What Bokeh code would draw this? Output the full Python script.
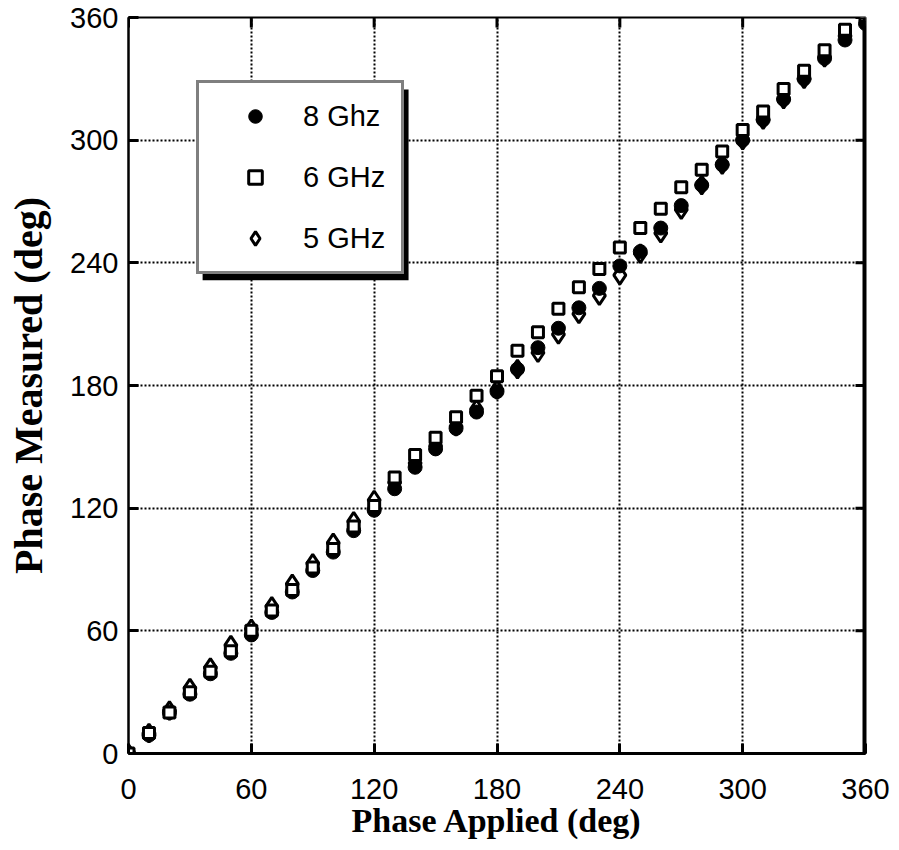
from bokeh.plotting import figure
from bokeh.models import (Range1d, FixedTicker, Legend, LegendItem, BoxAnnotation, Span)
from bokeh.embed import file_html
from bokeh.resources import INLINE

# ---- data ----
phase_applied = [0, 10, 20, 30, 40, 50, 60, 70, 80, 90, 100, 110, 120, 130, 140,
                 150, 160, 170, 180, 190, 200, 210, 220, 230, 240, 250, 260, 270,
                 280, 290, 300, 310, 320, 330, 340, 350, 360]
meas_8ghz = [0, 9, 20, 29, 39, 49, 58, 69, 79, 89.5, 98.5, 109, 119, 129.5, 140,
             149, 159, 167, 177, 188, 198.5, 208, 218, 227.5, 238.5, 245.5, 257,
             268, 278, 288, 300, 310, 320, 330, 340, 349, 357]
meas_6ghz = [0, 10, 20, 30, 40, 50, 60, 70, 80, 91, 100, 111, 121, 135, 146,
             154.5, 164.5, 175, 184.5, 197, 206, 217.5, 228, 237, 247.5, 257,
             266.5, 277, 285.5, 294.5, 305, 314, 325, 334, 344, 354, 361]
meas_5ghz = [0, 10, 21, 32, 42, 53, 61, 72, 83, 93, 103, 113.5, 124, 132.5, 142,
             150.5, 160, 168.5, 178, 188, 196, 205, 215, 224, 234, 244.5, 254.5,
             266, 278, 288, 300, 310, 320, 330, 340.5, 351, 360]
tick_values = [0, 60, 120, 180, 240, 300, 360]
series_labels = ["8 Ghz", "6 GHz", "5 GHz"]
x_title = "Phase Applied (deg)"
y_title = "Phase Measured (deg)"

AX_MIN, AX_MAX = 0, 360

p = figure(width=899, height=850, x_range=Range1d(AX_MIN, AX_MAX),
           y_range=Range1d(AX_MIN, AX_MAX),
           output_backend="svg", toolbar_location=None,
           min_border_left=128, min_border_right=34, min_border_top=17,
           min_border_bottom=97)
p.outline_line_color = "black"
p.outline_line_width = 2
p.background_fill_color = "white"
p.border_fill_color = "white"

# markers
r5 = p.scatter(phase_applied, meas_5ghz, marker="diamond", size=18,
               fill_color="white", line_color="black", line_width=3)
r8 = p.scatter(phase_applied, meas_8ghz, marker="circle", size=14,
               fill_color="black", line_color="black", line_width=1)
r6 = p.scatter(phase_applied, meas_6ghz, marker="square", size=11,
               fill_color="white", line_color="black", line_width=3)

# grid
for g in (p.xgrid, p.ygrid):
    g.ticker = FixedTicker(ticks=tick_values)
    g.grid_line_color = "black"
    g.grid_line_width = 2
    g.grid_line_dash = "2 2"

# main axes
xb = p.below[0]
yl = p.left[0]
for ax in (xb, yl):
    ax.ticker = FixedTicker(ticks=tick_values)
    ax.major_tick_in = 10
    ax.major_tick_out = 0
    ax.major_tick_line_width = 3
    ax.minor_tick_line_color = None
    ax.axis_line_width = 2
    ax.major_label_text_font = "Liberation Sans"
    ax.major_label_text_font_size = "29px"
    ax.major_label_text_color = "black"
    ax.axis_label_text_font = "Liberation Serif"
    ax.axis_label_text_font_style = "bold"
    ax.axis_label_text_color = "black"
xb.axis_label = x_title
yl.axis_label = y_title
xb.axis_label_text_font_size = "34px"
yl.axis_label_text_font_size = "40px"
xb.axis_line_width = 3
xb.major_label_standoff = 25
xb.axis_label_standoff = 0
yl.major_label_standoff = 10
yl.axis_label_standoff = 16

# inward ticks on the top and right frame edges (from the same tick values)
tick_len = 360 * 10 / 737.0
p.segment(x0=tick_values, y0=[AX_MAX] * len(tick_values),
          x1=tick_values, y1=[AX_MAX - tick_len] * len(tick_values),
          line_color="black", line_width=3)
p.segment(x0=[AX_MAX] * len(tick_values), y0=tick_values,
          x1=[AX_MAX - tick_len] * len(tick_values), y1=tick_values,
          line_color="black", line_width=3)

# heavy right frame edge
p.add_layout(Span(location=AX_MAX, dimension="height", line_color="black", line_width=6))

# legend shadow (decoration)
shadow = BoxAnnotation(left=36.2, right=136.8, top=324.8, bottom=231.5,
                       fill_color="black", fill_alpha=1.0, line_color=None)
p.add_layout(shadow)

legend = Legend(items=[LegendItem(label=series_labels[0], renderers=[r8]),
                       LegendItem(label=series_labels[1], renderers=[r6]),
                       LegendItem(label=series_labels[2], renderers=[r5])],
                location=(68, 479), orientation="vertical",
                border_line_color="black", border_line_width=3,
                background_fill_color="white", background_fill_alpha=1.0,
                label_text_font="Liberation Sans", label_text_font_size="29px",
                label_text_color="black",
                glyph_width=80, glyph_height=34, label_height=34, label_width=80,
                label_standoff=8, spacing=27, padding=16, margin=0)
p.add_layout(legend)

open("out.html", "w").write(file_html(p, INLINE))
